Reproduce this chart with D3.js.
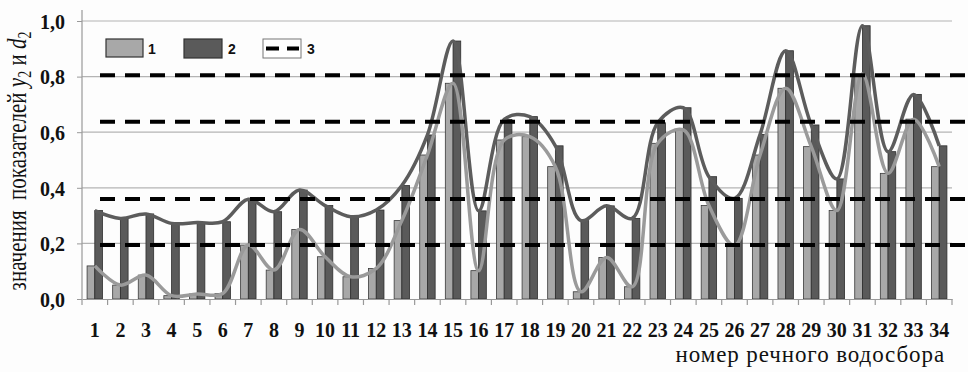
<!DOCTYPE html>
<html>
<head>
<meta charset="utf-8">
<script src="https://cdn.jsdelivr.net/npm/d3@7"></script>
<style>
  html, body { margin: 0; padding: 0; background: #fdfdfd; }
  svg { display: block; }
  .serif { font-family: "Liberation Serif", "Times New Roman", Tinos, "DejaVu Serif", serif; }
</style>
</head>
<body>
<svg id="chart" width="968" height="372"></svg>
<script>
// ---- data ----
const categories = d3.range(1, 35).map(String);
const seriesY2 = [0.119, 0.05, 0.086, 0.012, 0.018, 0.02, 0.194, 0.104, 0.25, 0.152,
                  0.08, 0.11, 0.282, 0.518, 0.776, 0.102, 0.572, 0.584, 0.476, 0.026,
                  0.149, 0.044, 0.56, 0.608, 0.336, 0.192, 0.518, 0.758, 0.548, 0.318,
                  0.809, 0.452, 0.647, 0.476];
const seriesD2 = [0.318, 0.29, 0.306, 0.272, 0.275, 0.278, 0.359, 0.314, 0.392, 0.336,
                  0.296, 0.32, 0.408, 0.59, 0.928, 0.317, 0.646, 0.656, 0.551, 0.282,
                  0.335, 0.29, 0.634, 0.688, 0.44, 0.362, 0.592, 0.893, 0.626, 0.432,
                  0.983, 0.53, 0.736, 0.551];
const thresholds = [0.805, 0.638, 0.36, 0.194];
const yTicks = [0, 0.2, 0.4, 0.6, 0.8, 1.0];
const yTickLabels = ["0,0", "0,2", "0,4", "0,6", "0,8", "1,0"];
const legendLabels = ["1", "2", "3"];
const xTitle = "номер речного водосбора";

// ---- layout ----
const svg = d3.select("#chart");
const mLeft = 82, mRight = 952, mTop = 10, mBottom = 299;

const x = d3.scaleBand().domain(categories).range([mLeft, mRight]).paddingInner(0).paddingOuter(0);
const xs = d3.scaleBand().domain(["y2", "d2"]).range([0, x.bandwidth()]).paddingInner(0).paddingOuter(0.66);
const y = d3.scaleLinear().domain([0, 1]).range([mBottom, 21]);

const lightFill = "#a8a8a8", darkFill = "#5a5a5a";
const lightLine = "#9a9a9a", darkLine = "#5c5c5c";

// gridlines
svg.append("g")
  .selectAll("line").data(yTicks.filter(v => v > 0)).join("line")
  .attr("x1", mLeft).attr("x2", mRight)
  .attr("y1", d => y(d)).attr("y2", d => y(d))
  .attr("stroke", "#b4b4b4").attr("stroke-width", 1.2);

// bars
const rows = categories.map((c, i) => ({ c, y2: seriesY2[i], d2: seriesD2[i] }));
const barG = svg.append("g");
barG.selectAll("rect.l").data(rows).join("rect").attr("class", "l")
  .attr("x", d => x(d.c) + xs("y2")).attr("width", xs.bandwidth())
  .attr("y", d => y(d.y2)).attr("height", d => y(0) - y(d.y2))
  .attr("fill", lightFill).attr("stroke", "#3a3a3a").attr("stroke-width", 0.8);
barG.selectAll("rect.d").data(rows).join("rect").attr("class", "d")
  .attr("x", d => x(d.c) + xs("d2")).attr("width", xs.bandwidth())
  .attr("y", d => y(d.d2)).attr("height", d => y(0) - y(d.d2))
  .attr("fill", darkFill).attr("stroke", "#2e2e2e").attr("stroke-width", 0.8);

// axes
const yAxis = d3.axisLeft(y).tickValues(yTicks).tickSize(5)
  .tickFormat((d, i) => yTickLabels[i]);
const gy = svg.append("g").attr("transform", `translate(${mLeft},0)`).call(yAxis);
gy.attr("font-family", null).attr("font-size", null);
gy.select(".domain").remove();
gy.selectAll(".tick line").attr("stroke", "#999");
gy.selectAll(".tick text")
  .attr("class", "serif")
  .style("font-weight", "bold").style("font-size", "20px").attr("fill", "#111")
  .attr("x", -17).attr("dy", "0.36em");
svg.append("line").attr("x1", mLeft).attr("x2", mLeft).attr("y1", mTop).attr("y2", mBottom)
  .attr("stroke", "#999").attr("stroke-width", 1.2);

const xAxis = d3.axisBottom(x).tickSize(0).tickSizeOuter(0);
const gx = svg.append("g").attr("transform", `translate(0,${mBottom})`).call(xAxis);
gx.attr("font-family", null).attr("font-size", null);
gx.select(".domain").attr("stroke", "#999").attr("stroke-width", 1.2);
gx.selectAll(".tick text")
  .attr("class", "serif")
  .style("font-weight", "bold").style("font-size", "20px").attr("fill", "#111")
  .attr("y", 38).attr("dy", 0);
// boundary tick marks
const bounds = categories.map(c => x(c)).concat([mRight]);
svg.append("g").selectAll("line").data(bounds).join("line")
  .attr("x1", d => d).attr("x2", d => d)
  .attr("y1", mBottom).attr("y2", mBottom + 6)
  .attr("stroke", "#999").attr("stroke-width", 1.2);

// smooth lines
const cx = c => x(c) + x.bandwidth() / 2;
const lineY2 = d3.line().x(d => cx(d.c)).y(d => y(d.y2)).curve(d3.curveCatmullRom.alpha(0.5));
const lineD2 = d3.line().x(d => cx(d.c)).y(d => y(d.d2)).curve(d3.curveCatmullRom.alpha(0.5));
svg.append("path").datum(rows).attr("d", lineD2)
  .attr("fill", "none").attr("stroke", darkLine).attr("stroke-width", 3.5);
svg.append("path").datum(rows).attr("d", lineY2)
  .attr("fill", "none").attr("stroke", lightLine).attr("stroke-width", 3.5);

// threshold dashed lines
svg.append("g").selectAll("line").data(thresholds).join("line")
  .attr("x1", 100).attr("x2", 968)
  .attr("y1", d => y(d)).attr("y2", d => y(d))
  .attr("stroke", "#000").attr("stroke-width", 4)
  .attr("stroke-dasharray", "15 10");

// legend
const legX = [106, 184, 263];
const lg = svg.append("g");
lg.append("rect").attr("x", legX[0]).attr("y", 39).attr("width", 37).attr("height", 18)
  .attr("fill", lightFill).attr("stroke", "#333").attr("stroke-width", 1.2);
lg.append("rect").attr("x", legX[1]).attr("y", 39).attr("width", 38).attr("height", 19)
  .attr("fill", darkFill).attr("stroke", "#333").attr("stroke-width", 1.2);
lg.append("rect").attr("x", legX[2]).attr("y", 39).attr("width", 38).attr("height", 19)
  .attr("fill", "#fff").attr("stroke", "#777").attr("stroke-width", 1);
lg.append("line").attr("x1", legX[2] + 3).attr("x2", legX[2] + 36)
  .attr("y1", 48.5).attr("y2", 48.5)
  .attr("stroke", "#000").attr("stroke-width", 4).attr("stroke-dasharray", "13 8");
lg.selectAll("text").data(legendLabels).join("text")
  .attr("x", (d, i) => legX[i] + (i === 0 ? 42 : 44)).attr("y", 53.5)
  .attr("font-family", "'Liberation Sans',Arial,sans-serif")
  .attr("font-weight", "bold").attr("font-size", 14).attr("fill", "#111")
  .text(d => d);

// axis titles
svg.append("text").attr("class", "serif").attr("x", 945).attr("y", 362).attr("text-anchor", "end")
  .style("font-size", "23px").style("letter-spacing", "0.9px").attr("fill", "#111").text(xTitle);

const yt = svg.append("text").attr("class", "serif")
  .attr("transform", "translate(26,161) rotate(-90) scale(1,1.3)")
  .attr("text-anchor", "middle")
  .style("font-size", "21px").attr("fill", "#111")
  .style("white-space", "pre");
yt.append("tspan").text("значения  показателей ");
yt.append("tspan").style("font-style", "italic").text("y");
yt.append("tspan").style("font-size", "14px").attr("dy", 4).text("2");
yt.append("tspan").attr("dy", -4).text(" и ");
yt.append("tspan").style("font-style", "italic").text("d");
yt.append("tspan").style("font-size", "14px").attr("dy", 4).text("2");
</script>
</body>
</html>
